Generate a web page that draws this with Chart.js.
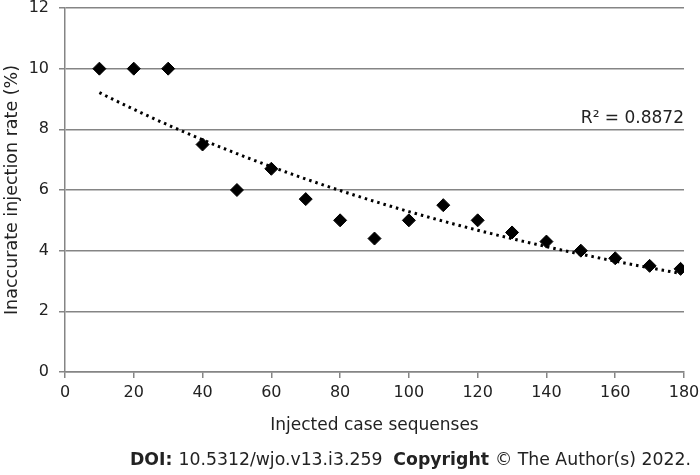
<!DOCTYPE html>
<html>
<head>
<meta charset="utf-8">
<script src="https://cdn.jsdelivr.net/npm/chart.js@4"></script>
<style>
  html, body { margin: 0; padding: 0; background: #fff; }
  #wrap { width: 700px; height: 475px; }
</style>
</head>
<body>
<div id="wrap"><canvas id="chart-1"></canvas></div>
<script>
// Data
const caseSeq = [10, 20, 30, 40, 50, 60, 70, 80, 90, 100, 110, 120, 130, 140, 150, 160, 170, 179];
const inaccurateRate = [10, 10, 10, 7.5, 6, 6.7, 5.7, 5, 4.4, 5, 5.5, 5, 4.6, 4.3, 4, 3.75, 3.5, 3.4];
const xTicks = [0, 20, 40, 60, 80, 100, 120, 140, 160, 180];
const yTicks = [0, 2, 4, 6, 8, 10, 12];
const r2Label = "R² = 0.8872";

// exponential trendline (least squares on ln y, like Excel)
const n = caseSeq.length;
const lny = inaccurateRate.map(v => Math.log(v));
const mx = caseSeq.reduce((a, b) => a + b, 0) / n;
const my = lny.reduce((a, b) => a + b, 0) / n;
let sxy = 0, sxx = 0;
caseSeq.forEach((x, i) => { sxy += (x - mx) * (lny[i] - my); sxx += (x - mx) * (x - mx); });
const b = sxy / sxx;
const a = Math.exp(my - b * mx);
const trend = [];
for (let x = caseSeq[0]; x <= caseSeq[n - 1]; x++) trend.push({ x: x, y: a * Math.exp(b * x) });

const font = "'DejaVu Sans', Verdana, sans-serif";
const gridColor = "#858585";
const textColor = "#222";

const extraText = {
  id: "extraText",
  afterDraw(chart) {
    const c = chart.ctx;
    const area = chart.chartArea;
    c.save();
    c.fillStyle = textColor;
    c.font = "17px " + font;
    c.textAlign = "right";
    c.textBaseline = "alphabetic";
    c.fillText(r2Label, area.right, 123);

    // DOI line
    const y = 465;
    const parts = [
      ["bold 17.3px " + font, "DOI: "],
      ["17.3px " + font, "10.5312/wjo.v13.i3.259  "],
      ["bold 17.3px " + font, "Copyright "],
      ["17.3px " + font, "© The Author(s) 2022."]
    ];
    let w = 0;
    parts.forEach(p => { c.font = p[0]; w += c.measureText(p[1]).width; });
    let x = 691 - w;
    c.textAlign = "left";
    parts.forEach(p => { c.font = p[0]; c.fillText(p[1], x, y); x += c.measureText(p[1]).width; });
    c.restore();
  }
};

const ctx1 = document.getElementById("chart-1").getContext("2d");
const myChart = new Chart(ctx1, {
  type: "scatter",
  data: {
    datasets: [
      {
        label: "Inaccurate injection rate",
        data: caseSeq.map((x, i) => ({ x: x, y: inaccurateRate[i] })),
        pointStyle: "rectRot",
        pointRadius: 6.5,
        backgroundColor: "#000",
        borderColor: "#000",
        order: 1,
      },
      {
        label: "Trend",
        type: "line",
        data: trend,
        borderColor: "#000",
        borderWidth: 3,
        borderDash: [2.5, 4],
        pointRadius: 0,
        fill: false,
        order: 2,
      },
    ],
  },
  options: {
    responsive: true,
    maintainAspectRatio: false,
    animation: false,
    layout: { padding: { left: 0, right: 16, top: 8, bottom: 35 } },
    plugins: {
      legend: { display: false },
      tooltip: { enabled: false },
    },
    scales: {
      x: {
        type: "linear",
        min: 0,
        max: 180,
        afterBuildTicks: s => { s.ticks = xTicks.map(v => ({ value: v })); },
        afterFit: s => { s.height = 68; s.paddingLeft = 0; s.paddingRight = 0; },
        grid: { drawOnChartArea: false, drawTicks: true, tickLength: 6, color: gridColor, lineWidth: 1.5 },
        border: { color: gridColor, width: 1.5 },
        ticks: { color: textColor, font: { family: font, size: 16 }, padding: 5 },
        title: {
          display: true,
          text: "Injected case sequenses",
          color: textColor,
          font: { family: font, size: 17 },
          padding: { top: 0, bottom: 4 },
        },
      },
      y: {
        min: 0,
        max: 12,
        afterBuildTicks: s => { s.ticks = yTicks.map(v => ({ value: v })); },
        afterFit: s => { s.width = 65; s.paddingTop = 0; s.paddingBottom = 0; },
        grid: { drawTicks: true, tickLength: 6, color: gridColor, lineWidth: 1.5 },
        border: { color: gridColor, width: 1.5 },
        ticks: { color: textColor, font: { family: font, size: 16 }, padding: 10 },
        title: {
          display: true,
          text: "Inaccurate injection rate (%)",
          color: textColor,
          font: { family: font, size: 17.5 },
          padding: { top: 2, bottom: 0 },
        },
      },
    },
  },
  plugins: [extraText],
});
</script>
</body>
</html>
